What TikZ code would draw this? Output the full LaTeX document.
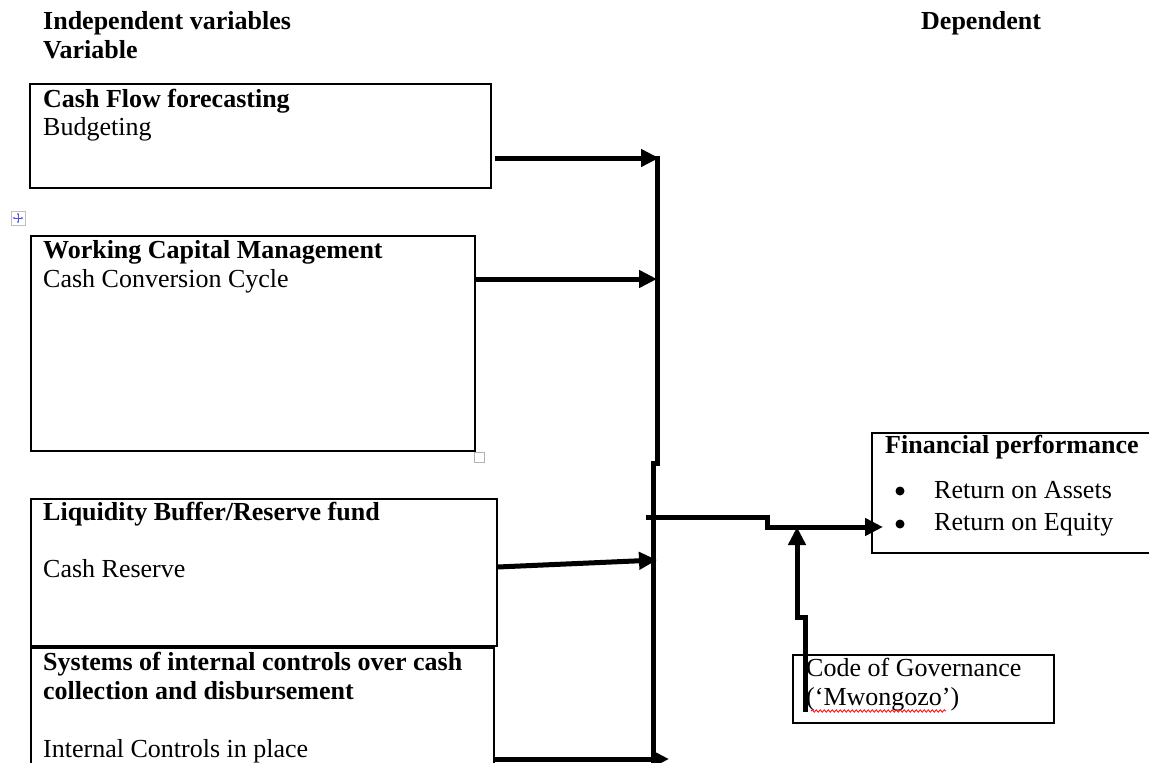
\documentclass[tikz,border=0pt]{standalone}
\usepackage{fontspec}
\setmainfont{Liberation Serif}
\usetikzlibrary{arrows.meta,decorations.pathmorphing}
\begin{document}
\begin{tikzpicture}[x=1pt,y=-1pt,
  box/.style={draw=black, line width=1.5pt, inner sep=0pt, anchor=north west},
  txt/.style={anchor=base west, inner sep=0pt, font=\fontsize{26}{28}\selectfont},
  btxt/.style={anchor=base west, inner sep=0pt, font=\fontsize{26}{28}\selectfont\bfseries},
  conn/.style={line width=5pt},
  arr/.style={conn, -{Triangle[length=18pt,width=17pt]}},
  bullet/.style={circle, fill=black, inner sep=0pt, minimum size=9pt},
]
\useasboundingbox (0,0) rectangle (1149,763);
\clip (0,0) rectangle (1149,763);

% boxes
\node[box, minimum width=461pt, minimum height=104pt] (b1) at (29,83) {};
\node[box, minimum width=444pt, minimum height=215pt] (b2) at (30,235) {};
\node[box, minimum width=466pt, minimum height=147pt] (b3) at (30,498) {};
\node[box, minimum width=463pt, minimum height=140pt] (b4) at (30,647) {};
\node[box, minimum width=300pt, minimum height=120pt] (fp) at (871,432) {};
\node[box, minimum width=261pt, minimum height=68pt] (cg) at (792,654) {};

% editor handles
\node[draw=gray!60, line width=0.8pt, anchor=north west, minimum size=10pt, inner sep=0pt] (hd) at (474,452) {};
\node[draw=gray!50, line width=0.8pt, minimum size=14pt, inner sep=0pt] (mv) at (18,218) {};
\draw[blue!70, line width=0.8pt, {Stealth[length=2.5pt]}-{Stealth[length=2.5pt]}] ([yshift=5.5pt]mv.center) -- ([yshift=-5.5pt]mv.center);
\draw[blue!70, line width=0.8pt, {Stealth[length=2.5pt]}-{Stealth[length=2.5pt]}] ([xshift=-5.5pt]mv.center) -- ([xshift=5.5pt]mv.center);

% texts
\node[btxt] (h1) at (43,29) {Independent variables};
\node[btxt] (h2) at (43,58) {Variable};
\node[btxt] (h3) at (921,29) {Dependent};
\node[btxt] (t1a) at (43,107) {Cash Flow forecasting};
\node[txt] (t1b) at (43,135) {Budgeting};
\node[btxt] (t2a) at (43,258) {Working Capital Management};
\node[txt] (t2b) at (43,287) {Cash Conversion Cycle};
\node[btxt] (t3a) at (43,520) {Liquidity Buffer/Reserve fund};
\node[txt] (t3b) at (43,577) {Cash Reserve};
\node[btxt] (t4a) at (43,670) {Systems of internal controls over cash};
\node[btxt] (t4b) at (43,699) {collection and disbursement};
\node[txt] (t4c) at (43,757) {Internal Controls in place};
\node[btxt] (t5) at (885,453) {Financial performance};
\node[bullet] (bu1) at (900,491) {};
\node[bullet] (bu2) at (900,524) {};
\node[txt] (t5a) at (934,498) {Return on Assets};
\node[txt] (t5b) at (934,530) {Return on Equity};
\node[txt] (t6a) at (806,676) {Code of Governance};
\node[txt] (t6b) at (806,705) {(‘Mwongozo’)};
\draw[red, line width=0.8pt, decorate, decoration={snake, amplitude=1.2pt, segment length=4pt}] (811,711) -- (946,711);

% connectors
\coordinate (bt) at (657,156);
\coordinate (bm1) at (657,463);
\coordinate (bm2) at (653,463);
\coordinate (bb) at (653,770);
\draw[conn] (bt) -- (bm1) -- (bm2) -- (bb);

\coordinate (j1) at (659,158);
\draw[arr] ([xshift=3pt]b1.east |- j1) -- (j1);
\coordinate (j2) at (657,279);
\draw[arr] (b2.east |- j2) -- (j2);
\coordinate (j3) at (657,560);
\draw[arr] ([yshift=-7pt]b3.east |- j3) -- (j3);
\coordinate (j4) at (669,759);
\draw[arr] (b4.east |- j4) -- (j4);

\coordinate (f0) at (646,517);
\coordinate (f1) at (767,517);
\coordinate (f2) at (767,527);
\draw[arr] (f0) -- (f1) -- (f2) -- ([xshift=12pt]fp.west |- f2);

\coordinate (g0) at (805,712);
\coordinate (g1) at (805,617);
\coordinate (g2) at (797,617);
\coordinate (g3) at (797,527);
\draw[arr] (g0) -- (g1) -- (g2) -- (g3);
\end{tikzpicture}
\end{document}
